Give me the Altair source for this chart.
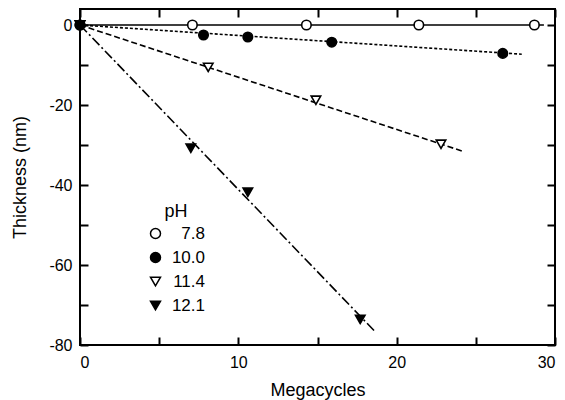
import altair as alt
import pandas as pd

ph_levels = ["7.8", "10.0", "11.4", "12.1"]

# measured points per series
x_78 = [0, 7.1, 14.3, 21.4, 28.7]
y_78 = [0, 0, 0, 0, 0]
x_100 = [0, 7.8, 10.6, 15.9, 26.7]
y_100 = [0, -2.5, -3.0, -4.3, -7.1]
x_114 = [0, 8.1, 14.9, 22.8]
y_114 = [0, -10.6, -18.8, -29.8]
x_121 = [0, 7.0, 10.6, 17.7]
y_121 = [0, -30.8, -41.8, -73.6]

# fitted lines (from origin to end point)
fit_x_end = [29.3, 27.9, 24.2, 18.6]
fit_y_end = [0, -7.3, -31.6, -76.5]

x_ticks = [0, 5, 10, 15, 20, 25, 30]
y_ticks = [-80, -70, -60, -50, -40, -30, -20, -10, 0]

dash_styles = [[1, 0], [3, 2], [6, 3], [10, 3, 2, 3]]

series = [(ph_levels[0], x_78, y_78), (ph_levels[1], x_100, y_100),
          (ph_levels[2], x_114, y_114), (ph_levels[3], x_121, y_121)]
pts = pd.DataFrame([{"x": xv, "y": yv, "pH": p}
                    for p, xs, ys in series for xv, yv in zip(xs, ys)])
lines = pd.DataFrame([{"x": 0, "y": 0, "pH": p} for p in ph_levels] +
                     [{"x": xe, "y": ye, "pH": p}
                      for p, xe, ye in zip(ph_levels, fit_x_end, fit_y_end)])

FONT = "Liberation Sans"
xscale = alt.Scale(domain=[0, 30], nice=False, zero=False)
yscale = alt.Scale(domain=[-80, 4], nice=False, zero=False)

x_bottom = alt.Axis(orient="bottom", values=x_ticks,
                    labelExpr="datum.value % 10 == 0 ? toString(datum.value) : ''",
                    tickSize=8, offset=-8, domain=False, grid=False,
                    labelPadding=9, title="Megacycles", titlePadding=11)
y_left = alt.Axis(orient="left", values=y_ticks,
                  labelExpr="datum.value % 20 == 0 ? toString(datum.value) : ''",
                  tickSize=8, offset=-8, domain=False, grid=False,
                  labelPadding=8, title="Thickness  (nm)", titlePadding=19)
x_top = alt.Axis(orient="top", values=x_ticks, labels=False, tickSize=8,
                 offset=-8, domain=False, grid=False, title=None)
y_right = alt.Axis(orient="right", values=y_ticks, labels=False, tickSize=8,
                   offset=-8, domain=False, grid=False, title=None)

line_layers = []
for i, (p, dash) in enumerate(zip(ph_levels, dash_styles)):
    enc = dict(x=alt.X("x:Q", scale=xscale, axis=x_bottom if i == 0 else None),
               y=alt.Y("y:Q", scale=yscale, axis=y_left if i == 0 else None))
    line_layers.append(
        alt.Chart(lines).transform_filter(alt.datum.pH == p)
        .mark_line(color="black", strokeWidth=1.6, strokeDash=dash)
        .encode(**enc)
    )

leg = alt.Legend(orient="none", legendX=67, legendY=194, title="pH",
                 titleAnchor="middle", labelAlign="right", labelOffset=41,
                 titleFont=FONT, titleFontSize=18, titleFontWeight="normal",
                 titleColor="black", labelFont=FONT, labelFontSize=17,
                 labelColor="black", symbolSize=100, symbolStrokeWidth=1.5,
                 rowPadding=6, titlePadding=4)

point_layer = alt.Chart(pts).mark_point(filled=True, size=90,
                                        strokeWidth=1.6, opacity=1).encode(
    x=alt.X("x:Q", scale=xscale, axis=x_top),
    y=alt.Y("y:Q", scale=yscale, axis=y_right),
    shape=alt.Shape("pH:N", scale=alt.Scale(
        domain=ph_levels,
        range=["circle", "circle", "triangle-down", "triangle-down"]),
        legend=leg),
    fill=alt.Fill("pH:N", scale=alt.Scale(
        domain=ph_levels, range=["white", "black", "white", "black"]),
        legend=leg),
    stroke=alt.Stroke("pH:N", scale=alt.Scale(
        domain=ph_levels, range=["black", "black", "black", "black"]),
        legend=leg),
)

chart = alt.layer(*line_layers, point_layer).resolve_axis(
    x="independent", y="independent"
).properties(
    width=475, height=336,
    autosize=alt.AutoSizeParams(type="none"),
    padding={"left": 72, "top": 1, "right": 2, "bottom": 55},
).configure_view(stroke="black", strokeWidth=2).configure_axis(
    labelFont=FONT, labelFontSize=16, labelColor="black",
    titleFont=FONT, titleFontSize=18, titleFontWeight="normal",
    titleColor="black", tickColor="black", tickWidth=2,
)

chart.save("out.html", embed_options={"renderer": "svg", "actions": False})
